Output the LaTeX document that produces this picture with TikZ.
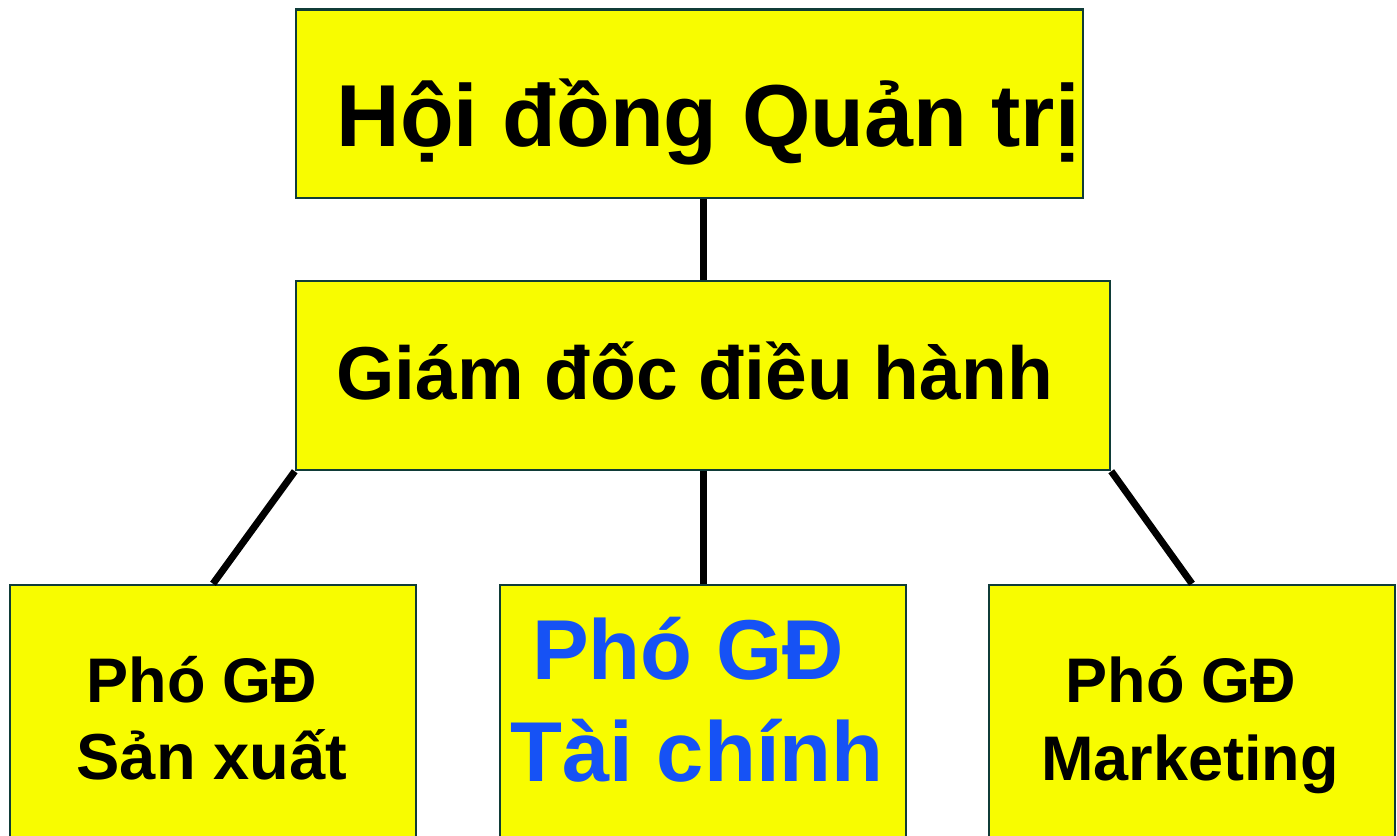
\documentclass[tikz,border=0pt]{standalone}
\usepackage{fontspec}
\setmainfont{Liberation Sans}
\definecolor{boxfill}{RGB}{248,252,0}
\definecolor{boxline}{RGB}{16,60,56}
\definecolor{vpblue}{RGB}{22,82,245}
\tikzset{
  orgbox/.style={draw=boxline,line width=2.5pt,fill=boxfill,inner sep=0pt,rectangle},
  link/.style={black,line width=7pt},
  bigtext/.style={anchor=base,inner sep=0pt,font=\fontsize{88}{100}\selectfont\bfseries},
  midtext/.style={anchor=base,inner sep=0pt,font=\fontsize{75}{88}\selectfont\bfseries},
  vptext/.style={anchor=base,inner sep=0pt,font=\fontsize{63}{74}\selectfont\bfseries},
  vpbluetext/.style={anchor=base,inner sep=0pt,text=vpblue,font=\fontsize{85}{102}\selectfont\bfseries}
}
\begin{document}
\begin{tikzpicture}[x=1pt,y=-1pt]
            \useasboundingbox (0,0) rectangle (1397,835);
            \clip (0,0) rectangle (1397,835);
            % Boxes
            \node[orgbox,minimum width=787pt,minimum height=188.5pt] (hdqt) at (689.5,103.75) {};
            \node[orgbox,minimum width=814pt,minimum height=189pt] (gd) at (703,375.5) {};
            \node[orgbox,minimum width=406pt,minimum height=315pt] (sx) at (213,742.5) {};
            \node[orgbox,minimum width=406pt,minimum height=315pt] (tc) at (703,742.5) {};
            \node[orgbox,minimum width=406pt,minimum height=315pt] (mk) at (1192,742.5) {};
            % Texts
            \node[bigtext] (hdqtText) at (708,146) {Hội đồng Quản trị};
            \node[midtext] (gdText) at (694.5,399) {Giám đốc điều hành};
            \node[vptext] (sxTop) at (202,702) {Phó GĐ};
            \node[vptext,font=\fontsize{65}{74}\selectfont\bfseries] (sxBottom) at (212,779) {Sản xuất};
            \node[vpbluetext] (tcTop) at (688,679) {Phó GĐ};
            \node[vpbluetext] (tcBottom) at (697,781) {Tài chính};
            \node[vptext] (mkTop) at (1181,702) {Phó GĐ};
            \node[vptext] (mkBottom) at (1190,780) {Marketing};
            % Links
            \draw[link] (gd.north |- hdqt.south) -- (gd.north);
            \draw[link] (gd.south) -- (tc.north);
            \draw[link] (gd.south west) -- (sx.north);
            \draw[link] (gd.south east) -- (mk.north);
\end{tikzpicture}
\end{document}
